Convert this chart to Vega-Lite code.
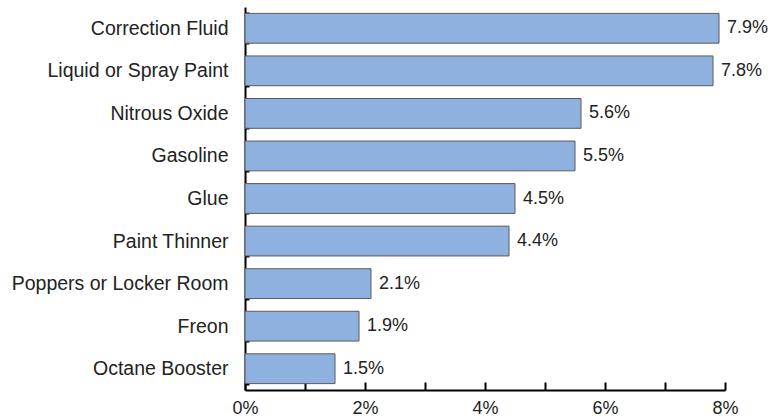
{
  "$schema": "https://vega.github.io/schema/vega-lite/v6.json",
  "autosize": {"type": "none"},
  "width": 480,
  "height": 383,
  "padding": {"left": 245, "top": 7, "right": 48, "bottom": 29},
  "background": "white",
  "config": {
    "view": {"stroke": null},
    "font": "Liberation Sans"
  },
  "data": {
    "values": [
      {"substance": "Correction Fluid", "pct": 7.9},
      {"substance": "Liquid or Spray Paint", "pct": 7.8},
      {"substance": "Nitrous Oxide", "pct": 5.6},
      {"substance": "Gasoline", "pct": 5.5},
      {"substance": "Glue", "pct": 4.5},
      {"substance": "Paint Thinner", "pct": 4.4},
      {"substance": "Poppers or Locker Room", "pct": 2.1},
      {"substance": "Freon", "pct": 1.9},
      {"substance": "Octane Booster", "pct": 1.5}
    ]
  },
  "encoding": {
    "y": {
      "field": "substance",
      "type": "nominal",
      "sort": null,
      "scale": {"paddingInner": 0.3, "paddingOuter": 0.15},
      "axis": {
        "title": null,
        "domainColor": "black",
        "domainWidth": 2,
        "ticks": true,
        "tickBand": "extent",
        "tickSize": -4,
        "tickColor": "black",
        "tickWidth": 2,
        "labelFontSize": 19.5,
        "labelLimit": 400,
        "labelColor": "#222",
        "labelPadding": 21,
        "labelFont": "Liberation Sans"
      }
    },
    "x": {
      "field": "pct",
      "type": "quantitative",
      "scale": {"domain": [0, 8], "nice": false},
      "axis": {
        "title": null,
        "values": [0, 1, 2, 3, 4, 5, 6, 7, 8],
        "labelExpr": "datum.value % 2 === 0 ? datum.value + '%' : ''",
        "labelFlush": false,
        "grid": false,
        "domainColor": "black",
        "domainWidth": 2,
        "tickColor": "black",
        "tickWidth": 2,
        "tickSize": -8,
        "labelFontSize": 18,
        "labelColor": "#222",
        "labelPadding": 17,
        "labelFont": "Liberation Sans"
      }
    }
  },
  "layer": [
    {
      "mark": {"type": "bar", "fill": "#8fb1df", "stroke": "#5a5a5a", "strokeWidth": 1}
    },
    {
      "mark": {
        "type": "text",
        "align": "left",
        "baseline": "middle",
        "dx": 8,
        "fontSize": 18,
        "fill": "#222",
        "font": "Liberation Sans",
        "text": {"expr": "format(datum.pct, '.1f') + '%'"}
      }
    }
  ]
}
